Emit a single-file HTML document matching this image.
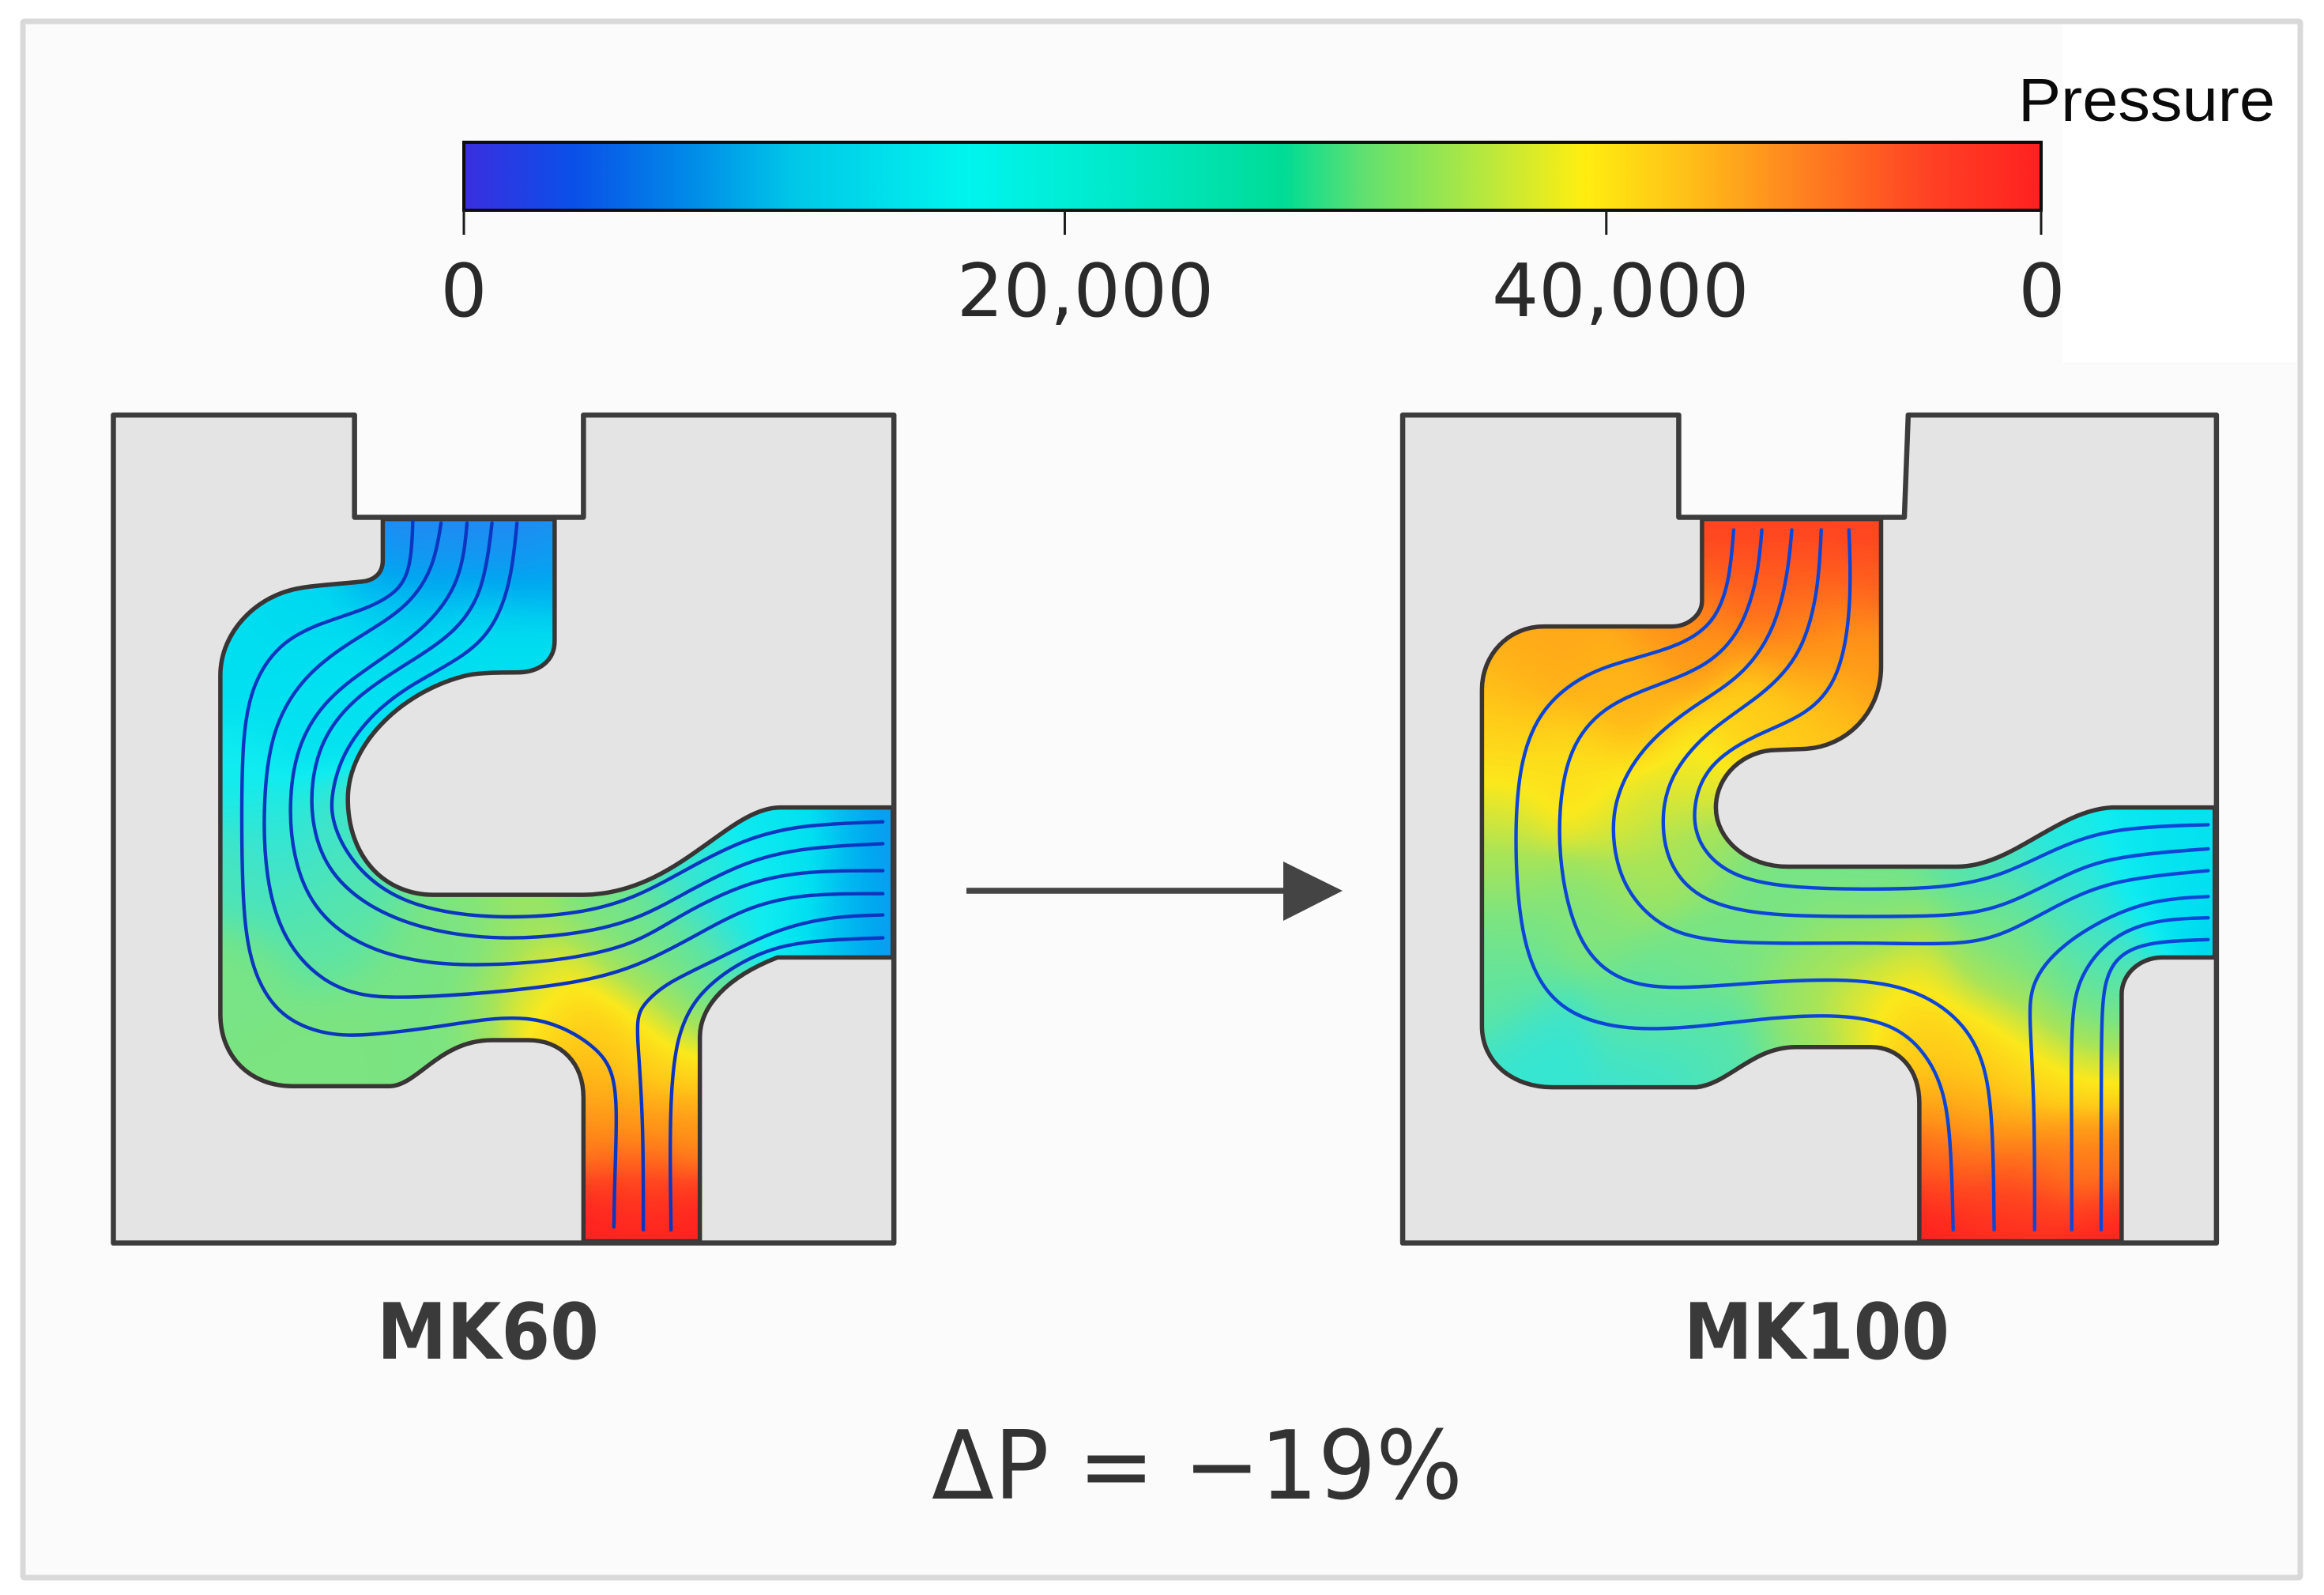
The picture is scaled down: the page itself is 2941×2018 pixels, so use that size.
<!DOCTYPE html>
<html lang="en">
<head>
<meta charset="utf-8">
<title>Pressure field comparison MK60 vs MK100</title>
<style>
html,body{margin:0;padding:0;background:#fff;}
#stage{position:relative;width:2941px;height:2018px;overflow:hidden;background:#fff;}
#stage>*{position:absolute;left:0;top:0;}
text{white-space:pre;}
</style>
</head>
<body>
<div id="stage">
<svg width="2941" height="2018" viewBox="0 0 2941 2018">
  <rect x="29" y="27" width="2882" height="1969" fill="#fbfbfb" stroke="#d9d9d9" stroke-width="7" rx="2"/>
  <rect x="2610" y="31" width="297" height="427" fill="#ffffff"/>
</svg>
<canvas id="heat" width="2941" height="2018"></canvas>
<svg id="top" width="2941" height="2018" viewBox="0 0 2941 2018">
  <defs>
    <linearGradient id="barGradient" x1="0" y1="0" x2="1" y2="0"></linearGradient>
  </defs>
  <g id="panelLeft" transform="translate(100,480) scale(0.7015,0.727)"></g>
  <g id="panelRight" transform="translate(1740,480) scale(0.7015,0.727)"></g>
  <g id="linesLeft"></g>
  <g id="linesRight"></g>
  <g id="outlines"></g>

  <g id="colorbar">
    <rect x="587" y="180" width="1996" height="86" fill="url(#barGradient)" stroke="#0c0c0c" stroke-width="4"/>
  </g>
  <text x="2554" y="153" font-family="'Liberation Sans',sans-serif" font-size="77" fill="#0a0a0a" textLength="325" lengthAdjust="spacingAndGlyphs">Pressure</text>

  <line x1="1223" y1="1127" x2="1630" y2="1127" stroke="#444444" stroke-width="7.5"/>
  <polygon points="1624,1090 1699,1127 1624,1165" fill="#444444"/>

  <text x="477" y="1719" font-family="'DejaVu Sans',sans-serif" font-weight="bold" font-size="98" fill="#3a3a3a" textLength="281" lengthAdjust="spacingAndGlyphs">MK60</text>
  <text x="2131" y="1719" font-family="'DejaVu Sans',sans-serif" font-weight="bold" font-size="98" fill="#3a3a3a" textLength="336" lengthAdjust="spacingAndGlyphs">MK100</text>
  <text x="1179" y="1896" font-family="'DejaVu Sans',sans-serif" font-size="120" fill="#333333" textLength="672" lengthAdjust="spacingAndGlyphs">ΔP = −19%</text>
</svg>
</div>
<script>
// ---- colour bar data ----
const tickValues = [0, 20000, 40000, 60000];
const tickLabels = ["0", "20,000", "40,000", "0"];
const tickLabelNudge = [0, 26, 18, 1];
const colormapLevels = [0, 0.07, 0.15, 0.21, 0.32, 0.42, 0.52, 0.57, 0.645, 0.71, 0.775, 0.85, 0.93, 1];
const colormapColors = ["#3a2ee0", "#0a50e8", "#0090e8", "#00c8e8", "#00f5ee", "#00e8c8", "#00dc96", "#60e070", "#b4e840", "#ffee10", "#ffc018", "#ff8020", "#ff4024", "#ff2020"];
const fieldLevels = [0, 0.10, 0.17, 0.27, 0.33, 0.42, 0.50, 0.57, 0.64, 0.71, 0.775, 0.85, 0.93, 1];
const fieldColors = ["#3068f0", "#2a80f4", "#00a8f0", "#00dff0", "#10ecf0", "#40e4c8", "#60e4a0", "#7ce480", "#a8e458", "#fbe81c", "#ffc818", "#ff9018", "#ff4820", "#ff2020"];
const pressureMax = 60000;

// ---- geometry, in panel units ----
const leftBody = "M62,62 L497,62 L497,240 L910,240 L910,62 L1470,62 L1470,1503 L62,1503 Z";
const leftChannel = "M548,243 L548,315 C548,338 532,350 510,352 C470,356 430,358 400,363 C320,375 255,440 255,515 L255,1105 C255,1180 310,1230 385,1230 L560,1230 C610,1230 650,1150 745,1150 L810,1150 C870,1150 910,1190 910,1250 L910,1500 L1120,1500 L1120,1145 C1120,1090 1170,1040 1260,1006 L1468,1006 L1468,745 L1265,745 C1170,745 1080,895 910,897 L640,897 C550,897 485,830 485,730 C485,630 590,540 700,515 C725,510 760,510 790,510 C830,510 858,490 858,455 L858,243 Z";
const rightBody = "M50,62 L548,62 L548,240 L955,240 L962,62 L1518,62 L1518,1503 L50,1503 Z";
const rightChannel = "M590,243 L590,385 C590,410 565,430 535,430 L305,430 C240,430 193,480 193,540 L193,1125 C193,1190 250,1232 320,1232 L580,1232 C640,1225 680,1162 760,1162 L895,1162 C945,1162 982,1200 982,1260 L982,1500 L1347,1500 L1347,1070 C1347,1035 1380,1006 1420,1006 L1515,1006 L1515,745 L1330,745 C1230,750 1150,848 1050,848 L745,848 C670,848 615,800 615,745 C615,690 665,645 725,645 L775,643 C850,640 913,580 913,500 L913,243 Z";

// ---- streamlines ----
const mk60Lines = [
 [[602,248],[600,310],[585,365],[520,400],[430,425],[360,460],[312,530],[295,620],[293,750],[295,950],[320,1050],[370,1115],[450,1142],[520,1142],[640,1128],[740,1112],[810,1110],[870,1125],[930,1160],[968,1205],[970,1300],[966,1400],[965,1475]],
 [[653,250],[640,330],[590,400],[500,450],[410,510],[350,600],[332,720],[335,870],[370,980],[440,1050],[520,1078],[640,1074],[760,1066],[900,1050],[1000,1025],[1100,975],[1200,920],[1300,895],[1450,895]],
 [[700,250],[690,350],[630,430],[540,490],[450,550],[395,630],[378,730],[385,830],[420,920],[500,985],[620,1018],[750,1020],[880,1010],[1000,985],[1080,935],[1190,880],[1300,855],[1450,855]],
 [[745,250],[730,370],[680,440],[600,490],[500,550],[440,620],[418,700],[420,780],[450,860],[530,925],[640,962],[760,975],[880,968],[1000,945],[1100,890],[1200,840],[1300,815],[1450,808]],
 [[790,250],[780,350],[750,430],[700,480],[600,530],[530,580],[475,650],[455,720],[455,770],[490,840],[560,900],[660,930],[780,938],[900,930],[1000,905],[1100,850],[1200,800],[1300,775],[1450,770]],
 [[1450,932],[1350,935],[1250,960],[1150,1010],[1060,1050],[1020,1085],[1005,1110],[1010,1180],[1018,1300],[1018,1480]],
 [[1450,972],[1350,975],[1260,985],[1180,1020],[1110,1075],[1075,1150],[1065,1280],[1068,1480]]
];
const mk100Lines = [
 [[647,262],[640,350],[615,420],[560,460],[470,485],[380,510],[300,570],[262,660],[252,780],[258,930],[285,1040],[350,1110],[470,1135],[600,1125],[720,1110],[840,1105],[930,1120],[990,1165],[1030,1240],[1040,1350],[1043,1480]],
 [[698,262],[690,350],[660,440],[600,500],[500,535],[410,570],[350,640],[330,750],[335,870],[370,990],[440,1050],[540,1062],[680,1050],[840,1042],[960,1055],[1050,1105],[1100,1180],[1115,1290],[1117,1480]],
 [[752,262],[745,340],[720,440],[660,520],[570,570],[480,640],[430,730],[428,810],[450,890],[520,960],[620,980],[760,982],[900,980],[1060,985],[1140,965],[1230,915],[1330,870],[1503,855]],
 [[805,262],[800,370],[770,480],[700,550],[600,610],[530,690],[515,770],[530,850],[590,910],[700,933],[850,935],[1040,935],[1130,920],[1230,870],[1320,830],[1503,817]],
 [[855,262],[860,390],[840,520],[780,585],[680,620],[600,670],[572,740],[580,810],[640,865],[740,885],[900,888],[1030,885],[1130,865],[1230,815],[1330,780],[1503,775]],
 [[1503,900],[1400,905],[1300,945],[1220,1000],[1183,1055],[1180,1110],[1190,1250],[1190,1480]],
 [[1503,937],[1400,940],[1320,975],[1270,1040],[1255,1110],[1257,1300],[1257,1480]],
 [[1503,975],[1400,978],[1340,1000],[1313,1050],[1310,1150],[1310,1480]]
];

// ---- pressure samples (x, y, colour-bar level) ----
const mk60Samples = [
 [600,250,.10],[700,250,.10],[800,250,.10],[700,320,.17],[580,320,.16],[830,320,.17],[700,450,.27],[820,470,.27],[560,430,.25],
 [300,500,.27],[400,420,.26],[290,700,.33],[290,850,.46],[290,1050,.56],[400,1200,.57],[500,1150,.57],[650,1180,.56],
 [400,600,.28],[500,520,.28],[350,800,.37],[400,900,.44],[450,960,.50],[480,800,.42],[520,880,.47],[600,1050,.56],
 [650,920,.58],[800,915,.62],[950,900,.55],[1100,860,.40],[1250,770,.30],[1400,770,.25],[1465,760,.12],[1460,800,.12],[1460,900,.12],[1460,1000,.10],
 [1400,900,.22],[1300,850,.30],[1200,900,.35],[1300,990,.30],[1400,990,.22],
 [700,1000,.55],[800,1050,.66],[880,1060,.71],[1000,1000,.60],[1000,1100,.72],[1060,1100,.70],[1100,1080,.60],[1140,1050,.40],[1060,1000,.48],
 [800,1120,.70],[700,1130,.58],[880,1150,.78],[930,1170,.80],[950,1200,.80],[1015,1200,.76],[1100,1180,.73],
 [1015,1300,.85],[930,1300,.87],[1100,1300,.85],[1015,1400,.94],[1015,1490,1],[930,1490,1],[1110,1490,1]
];
const mk100Samples = [
 [600,250,.95],[750,250,.95],[900,250,.95],[750,330,.90],[600,340,.90],[900,340,.90],[560,440,.84],[300,480,.82],[250,550,.79],[220,650,.74],[220,750,.68],[220,850,.63],[220,950,.56],[220,1050,.50],
 [300,1180,.40],[500,1190,.41],[620,1170,.47],[780,450,.87],[880,480,.84],[800,560,.78],[700,600,.76],[450,550,.80],[350,700,.73],[450,780,.69],[590,700,.70],[600,820,.63],[500,850,.63],[400,920,.58],
 [700,860,.55],[900,860,.54],[1100,830,.45],[1250,790,.35],[1400,770,.30],[1500,800,.28],[1500,960,.25],[1400,900,.30],[1250,900,.42],[1100,950,.52],[900,950,.58],[700,950,.57],[600,1000,.55],[800,1000,.58],
 [880,1020,.66],[1000,1020,.69],[1100,1040,.64],[1170,1000,.55],[1300,1000,.42],[1320,1050,.45],[1220,1100,.62],[1300,1100,.58],[500,1090,.52],[800,1080,.66],[880,1090,.72],[850,1140,.69],[780,1140,.55],
 [950,1090,.75],[1050,1150,.74],[1140,1150,.72],[1000,1180,.80],[1070,1250,.82],[1150,1250,.78],[1230,1200,.72],[1320,1200,.70],
 [1150,1350,.88],[1250,1350,.87],[1020,1350,.90],[1330,1350,.87],[1150,1420,.94],[1150,1490,1],[1000,1490,1],[1330,1490,1]
];

// ---- axis functions ----
const leftX = v => 100 + v * 0.7015;
const rightX = v => 1740 + v * 0.7015;
const panelY = v => 480 + v * 0.727;
const barLeft = 587, barWidth = 1996, barBottom = 266, tickBottom = 297, labelBaseline = 400;
function barScale(value) {
  const t = value / pressureMax;
  return barLeft + barWidth * (1.1695 * t - 0.0345 * t * t - 0.135 * t * t * t);
}

const NS = "http://www.w3.org/2000/svg";
const hex2rgb = h => [1, 3, 5].map(i => parseInt(h.substr(i, 2), 16));

function colorAt(level) {
  level = Math.max(0, Math.min(1, level));
  for (let i = 1; i < fieldLevels.length; i++) {
    if (level <= fieldLevels[i]) {
      const f = (level - fieldLevels[i - 1]) / (fieldLevels[i] - fieldLevels[i - 1]);
      const a = hex2rgb(fieldColors[i - 1]), b = hex2rgb(fieldColors[i]);
      return a.map((c, k) => Math.round(c + (b[k] - c) * f));
    }
  }
  return hex2rgb(fieldColors[fieldColors.length - 1]);
}

// colour bar gradient
const gradient = document.getElementById("barGradient");
colormapLevels.forEach((lvl, i) => {
  const stop = document.createElementNS(NS, "stop");
  stop.setAttribute("offset", lvl);
  stop.setAttribute("stop-color", colormapColors[i]);
  gradient.appendChild(stop);
});

// colour bar ticks and labels
const colorbar = document.getElementById("colorbar");
tickValues.forEach((value, i) => {
  const x = barScale(value);
  const tick = document.createElementNS(NS, "line");
  
  
  tick.setAttribute("x1", x);
  tick.setAttribute("x2", x);
  tick.setAttribute("y1", barBottom);
  tick.setAttribute("y2", tickBottom);
  tick.setAttribute("stroke", "#1c1c1c");
  tick.setAttribute("stroke-width", "3");
  colorbar.appendChild(tick);
  const label = document.createElementNS(NS, "text");
  
  
  label.setAttribute("x", x + tickLabelNudge[i]);
  label.setAttribute("y", labelBaseline);
  label.setAttribute("text-anchor", "middle");
  label.setAttribute("font-family", "'DejaVu Sans',sans-serif");
  label.setAttribute("font-size", "93");
  label.setAttribute("fill", "#2a2a2a");
  label.textContent = tickLabels[i];
  colorbar.appendChild(label);
});

// panel bodies and outlines
function addBody(groupId, bodyPath, channelPath) {
  const g = document.getElementById(groupId);
  const body = document.createElementNS(NS, "path");
  
  
  body.setAttribute("d", bodyPath + " " + channelPath);
  body.setAttribute("fill", "#e4e4e4");
  body.setAttribute("fill-rule", "evenodd");
  g.appendChild(body);
}
addBody("panelLeft", leftBody, leftChannel);
addBody("panelRight", rightBody, rightChannel);

function addStroke(groupId, d, width, color) {
  const g = document.getElementById(groupId);
  const p = document.createElementNS(NS, "path");
  
  
  p.setAttribute("d", d);
  p.setAttribute("fill", "none");
  p.setAttribute("stroke", color);
  p.setAttribute("stroke-width", width);
  p.setAttribute("stroke-linejoin", "round");
  p.setAttribute("vector-effect", "non-scaling-stroke");
  g.appendChild(p);
}

// smooth streamlines: clamped uniform cubic B-spline through the picked points
function smoothPath(points, xf, yf) {
  const raw = points.map(p => [xf(p[0]), yf(p[1])]);
  const pts = [raw[0], raw[0]].concat(raw, [raw[raw.length - 1], raw[raw.length - 1]]);
  let d = "M" + raw[0][0].toFixed(1) + "," + raw[0][1].toFixed(1);
  for (let i = 1; i < pts.length - 2; i++) {
    const p0 = pts[i - 1], p1 = pts[i], p2 = pts[i + 1], p3 = pts[i + 2];
    const c1 = [(2 * p1[0] + p2[0]) / 3, (2 * p1[1] + p2[1]) / 3];
    const c2 = [(p1[0] + 2 * p2[0]) / 3, (p1[1] + 2 * p2[1]) / 3];
    const e = [(p1[0] + 4 * p2[0] + p3[0]) / 6, (p1[1] + 4 * p2[1] + p3[1]) / 6];
    d += " C" + c1[0].toFixed(1) + "," + c1[1].toFixed(1) + " " + c2[0].toFixed(1) + "," + c2[1].toFixed(1) + " " + e[0].toFixed(1) + "," + e[1].toFixed(1);
  }
  return d;
}
function drawLines(groupId, lines, xf, color) {
  const g = document.getElementById(groupId);
  lines.forEach(points => {
    const p = document.createElementNS(NS, "path");
    
    
    p.setAttribute("d", smoothPath(points, xf, panelY));
    p.setAttribute("fill", "none");
    p.setAttribute("stroke", color);
    p.setAttribute("stroke-width", "4.4");
    p.setAttribute("stroke-linecap", "round");
    g.appendChild(p);
  });
}
drawLines("linesLeft", mk60Lines, leftX, "#0c36c0");
drawLines("linesRight", mk100Lines, rightX, "#0d46d6");

addStroke("panelLeft", leftChannel, 5.5, "#3a3535");
addStroke("panelLeft", leftBody, 6.5, "#3c3c3c");
addStroke("panelRight", rightChannel, 5.5, "#3a3535");
addStroke("panelRight", rightBody, 6.5, "#3c3c3c");

// heat field: gaussian-weighted field from the samples, clipped to each channel
const ctx = document.getElementById("heat").getContext("2d");
const colorLUT = [];
for (let i = 0; i <= 400; i++) {
  const c = colorAt(i / 400);
  colorLUT.push("rgb(" + c[0] + "," + c[1] + "," + c[2] + ")");
}
const fieldSigma = 62;
function fieldAt(samples, X, Y) {
  let sw = 1e-30, sv = 0;
  for (let i = 0; i < samples.length; i++) {
    const dx = X - samples[i][0], dy = Y - samples[i][1];
    const w = Math.exp(-(dx * dx + dy * dy) / (2 * fieldSigma * fieldSigma));
    sw += w;
    sv += w * samples[i][2];
  }
  return sv / sw;
}
function paintField(samples, channelPath, originX) {
  ctx.save();
  ctx.setTransform(0.7015, 0, 0, 0.727, originX, 480);
  ctx.clip(new Path2D(channelPath));
  ctx.setTransform(1, 0, 0, 1, 0, 0);
  const step = 2;
  for (let py = 640; py < 1580; py += step) {
    for (let px = originX; px < originX + 1100; px += step) {
      const X = (px - originX + 1) / 0.7015, Y = (py - 480 + 1) / 0.727;
      if (X < 180 || X > 1525 || Y < 235 || Y > 1510) continue;
      ctx.fillStyle = colorLUT[Math.round(fieldAt(samples, X, Y) * 400)];
      ctx.fillRect(px, py, step, step);
    }
  }
  ctx.restore();
}
paintField(mk60Samples, leftChannel, 100);
paintField(mk100Samples, rightChannel, 1740);
</script>
</body>
</html>
